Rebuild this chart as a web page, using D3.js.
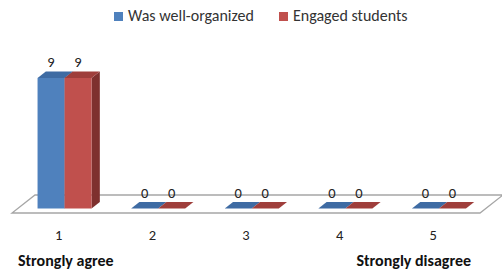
<!DOCTYPE html>
<html>
<head>
<script src="https://d3js.org/d3.v7.min.js"></script>
<style>
  body { margin: 0; background: #fff; }
  svg { font-family: Carlito, Calibri, Lato, sans-serif; }
</style>
</head>
<body>
<svg id="chart" width="502" height="273"></svg>
<script>
// data
var categories = ["1", "2", "3", "4", "5"];
var seriesNames = ["Was well-organized", "Engaged students"];
var organized = [9, 0, 0, 0, 0];
var engaged = [9, 0, 0, 0, 0];
var endLabels = ["Strongly agree", "Strongly disagree"];

var series = [organized, engaged];
var colors = [
  { front: "#4F81BD", top: "#3E6BA3", side: "#34598A" },
  { front: "#C0504D", top: "#9F3E3B", side: "#7E302E" }
];

var svg = d3.select("#chart");

// 3d projection: depth z in [0,1] shifts right and up
var DX = 23, DY = 18;
var floorY = 213;
var x = d3.scaleBand().domain(categories).range([12, 480]);
var y = d3.scaleLinear().domain([0, 9]).range([floorY, floorY - 130.5]);
var zFront = 0.25, zBack = 0.61;
var groupW = 54;

function P(px, py, z) { return [px + z * DX, py - z * DY]; }
function poly(pts) { return "M" + pts.map(p => p.join(",")).join("L") + "Z"; }

// floor
svg.append("path")
  .attr("d", poly([P(12, floorY, 0), P(480, floorY, 0), P(480, floorY, 1), P(12, floorY, 1)]))
  .attr("fill", "#fff")
  .attr("stroke", "#A6A6A6")
  .attr("stroke-width", 1.3);

// bars
var barW = groupW / series.length;
categories.forEach(function(c, i) {
  var gx = x(c) + x.bandwidth() / 2 - groupW / 2;
  series.forEach(function(s, k) {
    var x0 = gx + k * barW, x1 = x0 + barW;
    var yb = y(0), yt = y(s[i]);
    var col = colors[k];
    if (s[i] > 0) {
      svg.append("path")
        .attr("d", poly([P(x1, yb, zFront), P(x1, yb, zBack), P(x1, yt, zBack), P(x1, yt, zFront)]))
        .attr("fill", col.side);
    }
    svg.append("path")
      .attr("d", poly([P(x0, yt, zFront), P(x1, yt, zFront), P(x1, yt, zBack), P(x0, yt, zBack)]))
      .attr("fill", col.top);
    if (s[i] > 0) {
      svg.append("path")
        .attr("d", poly([P(x0, yb, zFront), P(x1, yb, zFront), P(x1, yt, zFront), P(x0, yt, zFront)]))
        .attr("fill", col.front);
    }
    var lp = P((x0 + x1) / 2, yt, zFront);
    svg.append("text")
      .attr("x", lp[0])
      .attr("y", lp[1] - 11)
      .attr("text-anchor", "middle")
      .attr("font-size", 14.5)
      .attr("fill", "#222")
      .text(s[i]);
  });
});

// category labels
svg.selectAll(".cat")
  .data(categories)
  .join("text")
  .attr("class", "cat")
  .attr("x", d => x(d) + x.bandwidth() / 2)
  .attr("y", 239.5)
  .attr("text-anchor", "middle")
  .attr("font-size", 14.5)
  .attr("fill", "#222")
  .text(d => d);

svg.append("text")
  .attr("x", 18).attr("y", 266)
  .attr("font-size", 16).attr("font-weight", "bold").attr("fill", "#111")
  .text(endLabels[0]);
svg.append("text")
  .attr("x", 471).attr("y", 266)
  .attr("text-anchor", "end")
  .attr("font-size", 16).attr("font-weight", "bold").attr("fill", "#111")
  .text(endLabels[1]);

// legend
var legendX = [114, 279];
seriesNames.forEach(function(n, k) {
  svg.append("rect")
    .attr("x", legendX[k]).attr("y", 12)
    .attr("width", 9).attr("height", 9)
    .attr("fill", colors[k].front);
  svg.append("text")
    .attr("x", legendX[k] + 14).attr("y", 21)
    .attr("font-size", 16).attr("fill", "#333")
    .text(n);
});
</script>
</body>
</html>
